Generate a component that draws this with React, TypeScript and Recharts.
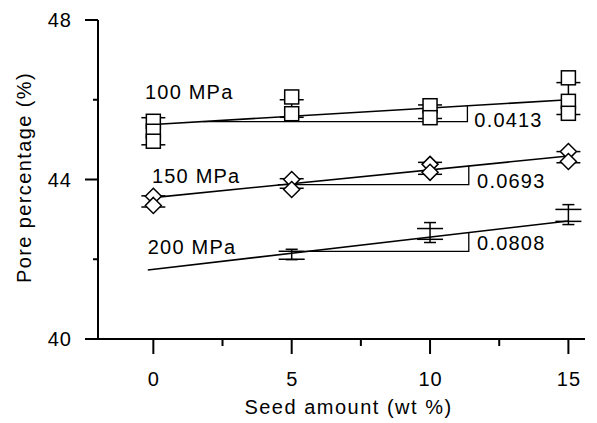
import { ComposedChart, Scatter, XAxis, YAxis, ErrorBar } from "recharts";

// axis ticks
const xTicks = [0, 2.5, 5, 7.5, 10, 12.5, 15];
const xMajor = [0, 5, 10, 15];
const yTicks = [40, 42, 44, 46, 48];
const yMajor = [40, 44, 48];

// measured points (pore %)
const pts100 = [
  { x: 0, y: 45.46 }, { x: 0, y: 45.21 }, { x: 0, y: 44.96 },
  { x: 5, y: 46.07 }, { x: 5, y: 45.65 },
  { x: 10, y: 45.85 }, { x: 10, y: 45.55 },
  { x: 15, y: 46.55 }, { x: 15, y: 45.96 }, { x: 15, y: 45.66 },
];
const pts150 = [
  { x: 0, y: 43.58 }, { x: 0, y: 43.35 },
  { x: 5, y: 44.0 }, { x: 5, y: 43.75 },
  { x: 10, y: 44.38 }, { x: 10, y: 44.18 },
  { x: 15, y: 44.7 }, { x: 15, y: 44.45 },
];
const pts200 = [
  { x: 5, y: 42.2 }, { x: 5, y: 42.0 },
  { x: 10, y: 42.77 }, { x: 10, y: 42.5 },
  { x: 15, y: 43.25 }, { x: 15, y: 42.95 },
];

// mean +/- error
const err100 = [
  { x: 0, y: 45.21, e: 0.34 },
  { x: 5, y: 45.78, e: 0.22 },
  { x: 10, y: 45.7, e: 0.17 },
  { x: 15, y: 46.03, e: 0.4 },
];
const err150 = [
  { x: 0, y: 43.45, e: 0.14 },
  { x: 5, y: 43.9, e: 0.12 },
  { x: 10, y: 44.28, e: 0.15 },
  { x: 15, y: 44.56, e: 0.14 },
];
const err200 = [
  { x: 5, y: 42.12, e: 0.13 },
  { x: 10, y: 42.67, e: 0.25 },
  { x: 15, y: 43.12, e: 0.25 },
];

// fitted lines
const fit100 = [{ x: 0, y: 45.38 }, { x: 15, y: 46.0 }];
const fit150 = [{ x: -0.1, y: 43.54 }, { x: 15, y: 44.59 }];
const fit200 = [{ x: -0.2, y: 41.73 }, { x: 15, y: 42.96 }];

// slope triangles
const tri100 = [{ x: 1.8, y: 45.45 }, { x: 11.35, y: 45.45 }, { x: 11.35, y: 45.85 }];
const tri150 = [{ x: 4.5, y: 43.87 }, { x: 11.4, y: 43.87 }, { x: 11.4, y: 44.34 }];
const tri200 = [{ x: 5.5, y: 42.2 }, { x: 11.4, y: 42.2 }, { x: 11.4, y: 42.67 }];

const seriesLabels = [
  { x: -0.3, y: 46.2, text: "100 MPa" },
  { x: -0.05, y: 44.08, text: "150 MPa" },
  { x: -0.2, y: 42.3, text: "200 MPa" },
];
const slopeLabels = [
  { x: 11.6, y: 45.5, text: "0.0413" },
  { x: 11.7, y: 43.95, text: "0.0693" },
  { x: 11.7, y: 42.42, text: "0.0808" },
];

const FONT = "'Liberation Sans', Arial, Helvetica, sans-serif";

const none = () => <g />;

const Square = (p: any) => (
  <rect x={p.cx - 7} y={p.cy - 7} width={14} height={14} fill="#fff" stroke="#000" strokeWidth={1.5} />
);
const Diamond = (p: any) => (
  <polygon
    points={`${p.cx},${p.cy - 8} ${p.cx + 8},${p.cy} ${p.cx},${p.cy + 8} ${p.cx - 8},${p.cy}`}
    fill="#fff"
    stroke="#000"
    strokeWidth={1.5}
  />
);
const Dash = (p: any) => (
  <line x1={p.cx - 13} x2={p.cx + 13} y1={p.cy} y2={p.cy} stroke="#000" strokeWidth={1.5} />
);
const TextMark = (p: any) => (
  <text x={p.cx} y={p.cy + 7} fontSize={20} letterSpacing={1.2} fontFamily={FONT} fill="#000">
    {p.payload.text}
  </text>
);

const XTick = (p: any) => {
  const major = xMajor.includes(p.payload.value);
  return (
    <g>
      <line x1={p.x} x2={p.x} y1={p.y} y2={p.y + (major ? 15 : 7)} stroke="#000" strokeWidth={2} />
      {major && (
        <text x={p.x + 0.5} y={p.y + 47} textAnchor="middle" fontSize={20} letterSpacing={1} fontFamily={FONT} fill="#000">
          {p.payload.value}
        </text>
      )}
    </g>
  );
};

const YTick = (p: any) => {
  const major = yMajor.includes(p.payload.value);
  return (
    <g>
      <line x1={p.x - (major ? 13 : 5)} x2={p.x} y1={p.y} y2={p.y} stroke="#000" strokeWidth={2} />
      {major && (
        <text x={p.x - 26} y={p.y + 7} textAnchor="end" fontSize={20} letterSpacing={1} fontFamily={FONT} fill="#000">
          {p.payload.value}
        </text>
      )}
    </g>
  );
};

export default function App() {
  return (
    <div style={{ position: "fixed", left: 0, top: 0, width: 597, height: 423, background: "#fff" }}>
      <ComposedChart width={597} height={423} margin={{ top: 20, right: 12, left: 0, bottom: 0 }}>
        <XAxis
          type="number"
          dataKey="x"
          domain={[-2, 15.6]}
          ticks={xTicks}
          allowDataOverflow
          height={84}
          tickSize={0}
          tickMargin={0}
          tickLine={false}
          axisLine={{ stroke: "#000", strokeWidth: 2 }}
          tick={XTick}
          label={{
            content: ({ viewBox }: any) => (
              <text
                x={viewBox.x + viewBox.width / 2 + 7}
                y={viewBox.y + viewBox.height - 9}
                textAnchor="middle"
                fontSize={20}
                letterSpacing={1.5}
                fontFamily={FONT}
                fill="#000"
              >
                Seed amount (wt %)
              </text>
            ),
          }}
        />
        <YAxis
          type="number"
          dataKey="y"
          domain={[40, 48]}
          ticks={yTicks}
          allowDataOverflow
          width={98}
          tickSize={0}
          tickMargin={0}
          tickLine={false}
          axisLine={{ stroke: "#000", strokeWidth: 2 }}
          tick={YTick}
          label={{
            content: ({ viewBox }: any) => {
              const cx = 24;
              const cy = viewBox.y + viewBox.height / 2 - 2;
              return (
                <text
                  x={cx}
                  y={cy}
                  transform={`rotate(-90 ${cx} ${cy})`}
                  textAnchor="middle"
                  dominantBaseline="central"
                  fontSize={20}
                  letterSpacing={1.4}
                  fontFamily={FONT}
                  fill="#000"
                >
                  Pore percentage (%)
                </text>
              );
            },
          }}
        />

        <Scatter data={fit100} dataKey="y" line={{ stroke: "#000", strokeWidth: 1.6 }} shape={none} isAnimationActive={false} />
        <Scatter data={fit150} dataKey="y" line={{ stroke: "#000", strokeWidth: 1.6 }} shape={none} isAnimationActive={false} />
        <Scatter data={fit200} dataKey="y" line={{ stroke: "#000", strokeWidth: 1.6 }} shape={none} isAnimationActive={false} />

        <Scatter data={tri100} dataKey="y" line={{ stroke: "#000", strokeWidth: 1.3 }} shape={none} isAnimationActive={false} />
        <Scatter data={tri150} dataKey="y" line={{ stroke: "#000", strokeWidth: 1.3 }} shape={none} isAnimationActive={false} />
        <Scatter data={tri200} dataKey="y" line={{ stroke: "#000", strokeWidth: 1.3 }} shape={none} isAnimationActive={false} />

        <Scatter data={pts100} dataKey="y" shape={Square} isAnimationActive={false} />
        <Scatter data={pts150} dataKey="y" shape={Diamond} isAnimationActive={false} />
        <Scatter data={pts200} dataKey="y" shape={Dash} isAnimationActive={false} />

        <Scatter data={err100} dataKey="y" shape={none} isAnimationActive={false}>
          <ErrorBar dataKey="e" direction="y" width={12} stroke="#000" strokeWidth={1.5} isAnimationActive={false} />
        </Scatter>
        <Scatter data={err150} dataKey="y" shape={none} isAnimationActive={false}>
          <ErrorBar dataKey="e" direction="y" width={12} stroke="#000" strokeWidth={1.5} isAnimationActive={false} />
        </Scatter>
        <Scatter data={err200} dataKey="y" shape={none} isAnimationActive={false}>
          <ErrorBar dataKey="e" direction="y" width={6} stroke="#000" strokeWidth={1.5} isAnimationActive={false} />
        </Scatter>

        <Scatter data={seriesLabels} dataKey="y" shape={TextMark} isAnimationActive={false} />
        <Scatter data={slopeLabels} dataKey="y" shape={TextMark} isAnimationActive={false} />
      </ComposedChart>
    </div>
  );
}
